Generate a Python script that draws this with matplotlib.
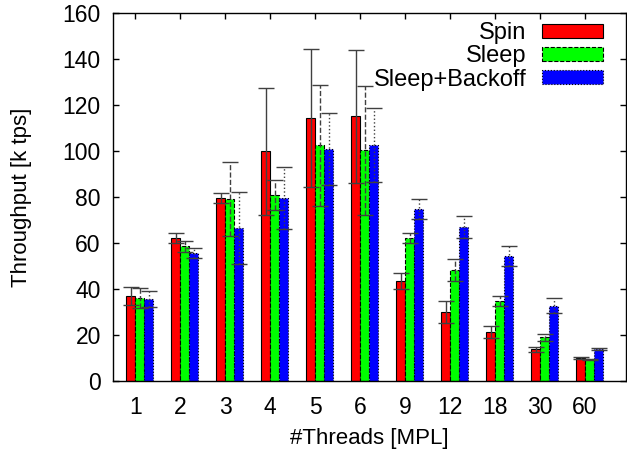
import numpy as np
import matplotlib
matplotlib.use('Agg')
import matplotlib.pyplot as plt

plt.rcParams['font.family'] = ['Liberation Sans', 'DejaVu Sans']

# values
threads = ['1', '2', '3', '4', '5', '6', '9', '12', '18', '30', '60']
spin = [37.0, 62.2, 79.4, 99.9, 114.3, 115.1, 43.5, 29.9, 21.4, 13.8, 10.1]
spin_err = [3.8, 2.0, 2.2, 27.6, 30.0, 28.8, 3.5, 4.8, 2.6, 1.2, 0.4]
sleep = [36.0, 58.5, 79.1, 80.9, 102.5, 100.3, 62.2, 48.3, 34.6, 19.0, 9.4]
sleep_err = [4.3, 2.2, 16.2, 6.5, 26.3, 28.0, 2.1, 4.8, 2.2, 1.4, 0.3]
backoff = [35.7, 55.5, 66.5, 79.6, 100.9, 102.6, 74.8, 67.0, 54.3, 32.7, 14.0]
backoff_err = [3.6, 2.2, 15.5, 13.3, 15.7, 16.0, 4.5, 4.7, 4.5, 3.3, 0.5]

series = [
    ('Spin', spin, spin_err, '#ff0000', '-'),
    ('Sleep', sleep, sleep_err, '#00ff00', '--'),
    ('Sleep+Backoff', backoff, backoff_err, '#0000ff', ':'),
]

fig = plt.figure(figsize=(6.27, 4.55), dpi=100)
ax = fig.add_axes([0.1807, 0.1626, 0.8177, 0.8088])

x = np.arange(len(threads))
width = 0.2
offsets = [-0.1, 0.1, 0.3]

for (name, vals, errs, color, ls), off in zip(series, offsets):
    ax.bar(x + off, vals, width, color=color, edgecolor='black',
           linewidth=0.8, linestyle=ls, label=name, zorder=2)
    eb = ax.errorbar(x + off, vals, yerr=errs, fmt='none', ecolor='#404040',
                     elinewidth=1.0, capsize=5.5, capthick=1.0, zorder=3)
    eb[2][0].set_linestyle(ls)

ax.set_xlim(-0.49, 10.91)
ax.set_ylim(0, 160)
ax.set_xticks(x)
ax.set_xticklabels(threads)
ax.set_yticks(np.arange(0, 161, 20))
ax.tick_params(direction='in', length=4.5, width=1, top=True, right=True,
               labelsize=16.5, pad=9)
ax.tick_params(axis='x', pad=11)
for s in ax.spines.values():
    s.set_linewidth(1.0)

ax.set_xlabel('#Threads [MPL]', fontsize=16, labelpad=6)
ax.set_ylabel('Throughput [k tps]', fontsize=16, labelpad=22)

ax.legend(loc='upper right', bbox_to_anchor=(0.955, 0.975), frameon=False,
          fontsize=17, markerfirst=False, handlelength=2.6, handleheight=0.55,
          handletextpad=0.65, labelspacing=0.05, borderpad=0, borderaxespad=0)

fig.savefig('out.png', dpi=100)
